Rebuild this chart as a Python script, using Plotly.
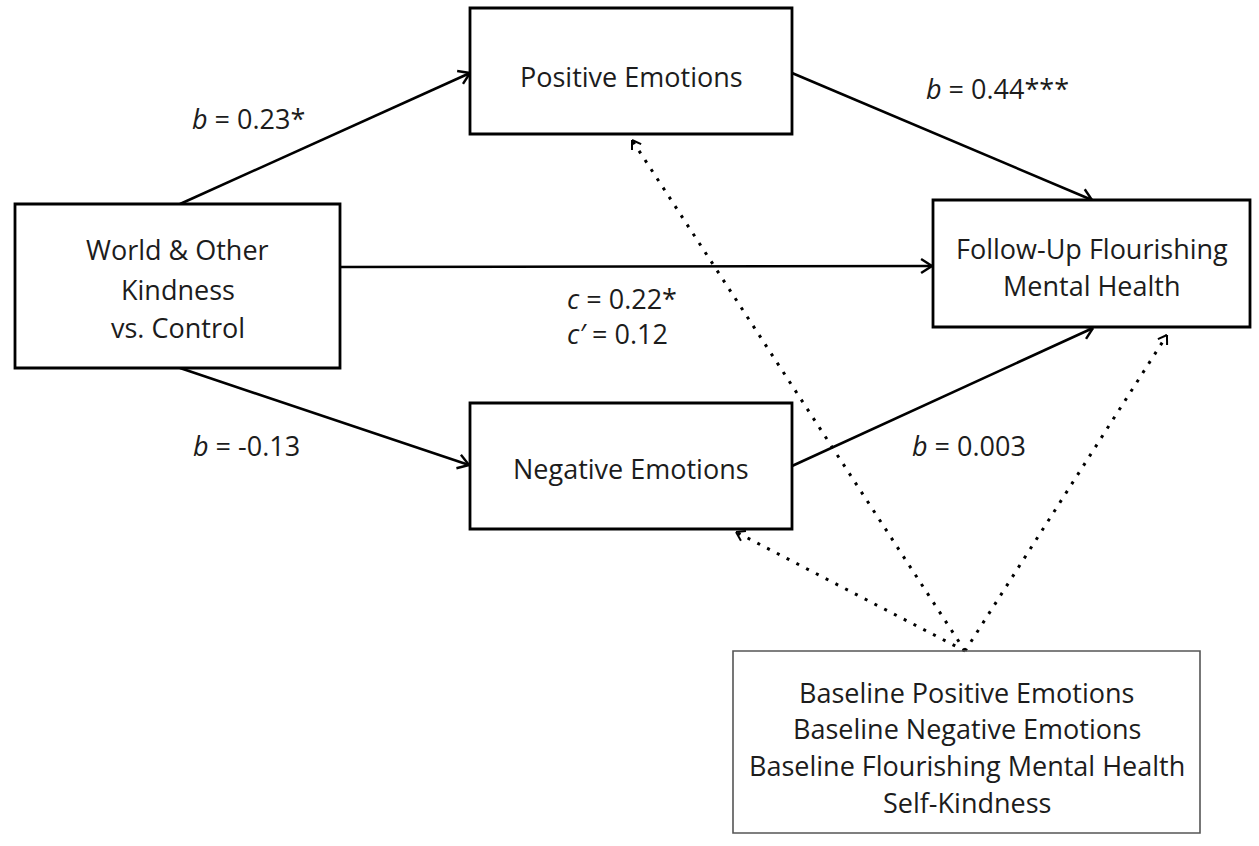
import numpy as np
import plotly.graph_objects as go

# ---------------- data ----------------
node_ids = ["pos", "neg", "iv", "dv", "cov"]
node_lines = {
    "pos": ["Positive Emotions"],
    "neg": ["Negative Emotions"],
    "iv": ["World & Other", "Kindness", "vs. Control"],
    "dv": ["Follow-Up Flourishing", "Mental Health"],
    "cov": ["Baseline Positive Emotions", "Baseline Negative Emotions",
            "Baseline Flourishing Mental Health", "Self-Kindness"],
}
path_ids = ["a1", "b1", "c", "a2", "b2"]
path_symbol = ["b", "b", "c", "b", "b"]
path_coef = ["0.23*", "0.44***", "0.22*", "-0.13", "0.003"]
direct_prime_coef = "0.12"

# ---------------- layout (pixel space, y downwards) ----------------
box_rect = {
    "pos": (470, 8, 792, 134),
    "neg": (470, 403, 792, 529),
    "iv": (15, 204, 340, 368),
    "dv": (933, 200, 1250, 327),
    "cov": (733, 651, 1200, 833),
}
line_y = {
    "pos": [76],
    "neg": [468],
    "iv": [249, 289, 327],
    "dv": [248, 285],
    "cov": [692, 728, 765, 802],
}
solid_edges = [
    ((180, 204), (470, 73)),
    ((792, 73), (1092, 200)),
    ((340, 267), (932, 266)),
    ((180, 368), (469, 465)),
    ((792, 466), (1093, 328)),
]
cov_src = (965, 651)
dotted_tips = [(632, 140), (736, 532), (1167, 335)]
label_pos = {
    "a1": (248, 118, "center"),
    "b1": (997, 88, "center"),
    "c": (565, 298, "left"),
    "a2": (246, 445, "center"),
    "b2": (969, 445, "center"),
}

FONT = "Open Sans"
FSIZE = 27
TXT = "#1c1c1c"

fig = go.Figure()


def arrow_head(p0, p1, length=13, half_angle=np.deg2rad(33)):
    p0 = np.array(p0, float)
    p1 = np.array(p1, float)
    d = p0 - p1
    d /= np.linalg.norm(d)
    xs, ys = [], []
    for s in (1, -1):
        a = half_angle * s
        rot = np.array([[np.cos(a), -np.sin(a)], [np.sin(a), np.cos(a)]])
        q = p1 + length * rot.dot(d)
        xs += [q[0], p1[0], None]
        ys += [q[1], p1[1], None]
    return xs, ys


# solid paths
for p0, p1 in solid_edges:
    fig.add_trace(go.Scatter(x=[p0[0], p1[0]], y=[p0[1], p1[1]], mode="lines",
                             line=dict(color="black", width=2.6), hoverinfo="skip"))
    hx, hy = arrow_head(p0, p1)
    fig.add_trace(go.Scatter(x=hx, y=hy, mode="lines",
                             line=dict(color="black", width=2.4), hoverinfo="skip"))

# dotted covariate paths
for tip in dotted_tips:
    fig.add_trace(go.Scatter(x=[cov_src[0], tip[0]], y=[cov_src[1], tip[1]], mode="lines",
                             line=dict(color="black", width=3, dash="3px,8px"),
                             hoverinfo="skip"))
    hx, hy = arrow_head(cov_src, tip, length=10)
    fig.add_trace(go.Scatter(x=hx, y=hy, mode="lines",
                             line=dict(color="black", width=2), hoverinfo="skip"))

# boxes
for nid in node_ids:
    x0, y0, x1, y1 = box_rect[nid]
    is_cov = nid == "cov"
    fig.add_shape(type="rect", x0=x0, y0=y0, x1=x1, y1=y1, xref="x", yref="y",
                  line=dict(color="#555555" if is_cov else "black",
                            width=1.6 if is_cov else 2.8),
                  fillcolor="rgba(0,0,0,0)" if is_cov else "white", layer="above")
    cx = (x0 + x1) / 2
    for txt, ty in zip(node_lines[nid], line_y[nid]):
        fig.add_annotation(x=cx, y=ty, xref="x", yref="y", text=txt, showarrow=False,
                           font=dict(family=FONT, size=FSIZE, color=TXT),
                           xanchor="center", yanchor="middle")

# path labels
for pid, sym, coef in zip(path_ids, path_symbol, path_coef):
    lx, ly, anchor = label_pos[pid]
    fig.add_annotation(x=lx, y=ly, xref="x", yref="y",
                       text=f"<i>{sym}</i> = {coef}", showarrow=False,
                       font=dict(family=FONT, size=FSIZE, color=TXT),
                       xanchor=anchor, yanchor="middle")
    if pid == "c":
        fig.add_annotation(x=lx, y=ly + 35, xref="x", yref="y",
                           text=f"<i>{sym}′</i> = {direct_prime_coef}", showarrow=False,
                           font=dict(family=FONT, size=FSIZE, color=TXT),
                           xanchor=anchor, yanchor="middle")

fig.update_layout(
    width=1259, height=846,
    margin=dict(l=0, r=0, t=0, b=0),
    paper_bgcolor="white", plot_bgcolor="white",
    showlegend=False,
    xaxis=dict(range=[0, 1259], visible=False, fixedrange=True),
    yaxis=dict(range=[846, 0], visible=False, fixedrange=True),
)

fig.write_html("out.html", config={"displayModeBar": False},
               post_script="document.body.style.margin='0';")
